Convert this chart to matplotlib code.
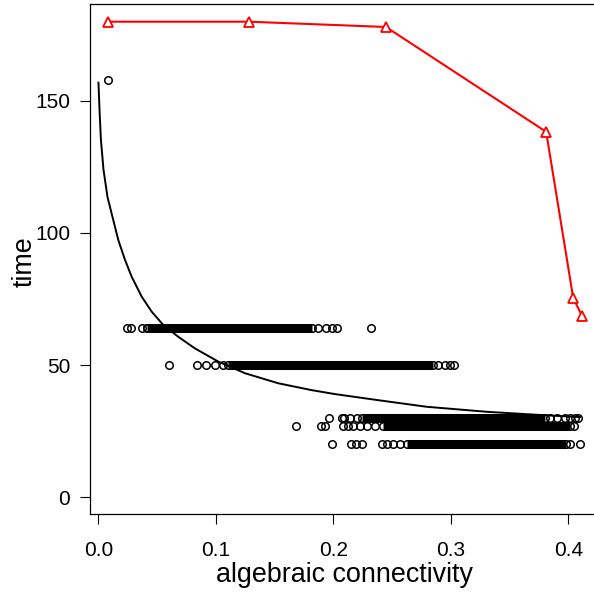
import matplotlib
matplotlib.use("Agg")
import matplotlib.pyplot as plt

plt.rcParams['font.family'] = ['Liberation Sans', 'DejaVu Sans']

# Red series (open triangles joined by a line)
tri_x = [0.0081, 0.128, 0.2447, 0.381, 0.404, 0.4115]
tri_y = [180, 180, 178, 138.3, 75.4, 68.6]

# Fitted black curve
curve_x = [0.0, 0.0009, 0.0021, 0.0043, 0.0077, 0.0126, 0.0169, 0.0226, 0.0283,
           0.0368, 0.0453, 0.0551, 0.0679, 0.0821, 0.1020, 0.1247, 0.1530, 0.1814,
           0.2013, 0.2396, 0.2793, 0.3304, 0.3757, 0.4098]
curve_y = [156.9, 146.6, 135.2, 123.9, 113.6, 104.9, 97.3, 89.8, 83.4,
           75.9, 70.2, 65.2, 60.7, 56.3, 51.3, 46.9, 43.1, 40.5,
           39.0, 36.6, 34.2, 32.3, 31.1, 30.3]

# Scatter bands: y level, isolated points, dense run (start, end)
band_levels = [64, 50, 30, 27, 20]
band_isolated = [
    [0.024, 0.0274, 0.0373, 0.041, 0.187, 0.194, 0.1985, 0.2027, 0.2317],
    [0.0603, 0.0841, 0.0915, 0.099, 0.1057, 0.289, 0.295, 0.299, 0.3026],
    [0.196, 0.207, 0.209, 0.214, 0.2197, 0.384, 0.3905, 0.397, 0.4013, 0.4055, 0.408],
    [0.168, 0.189, 0.1928, 0.2078, 0.2126, 0.2169, 0.2226, 0.2283, 0.2353, 0.4047],
    [0.1985, 0.2146, 0.2191, 0.224, 0.241, 0.2458, 0.2504, 0.2566, 0.4013, 0.4098],
]
band_dense = [(0.041, 0.182), (0.1105, 0.285), (0.224, 0.380), (0.2424, 0.401), (0.2623, 0.398)]

extra_x = [0.0081]
extra_y = [158]

x_ticks = [0.0, 0.1, 0.2, 0.3, 0.4]
x_labels = ["0.0", "0.1", "0.2", "0.3", "0.4"]
y_ticks = [0, 50, 100, 150]
y_labels = ["0", "50", "100", "150"]

W, H = 594, 593
fig = plt.figure(figsize=(W / 100, H / 100), dpi=100)
xlim = (-0.0072, 0.425)
ylim = (-6.4, 186.7)
left_px, bottom_px, top_px = 90, 514, 4
right_px = 98.5 + 0.425 * 1175
ax = fig.add_axes([left_px / W, (H - bottom_px) / H,
                   (right_px - left_px) / W, (bottom_px - top_px) / H])
ax.set_xlim(*xlim)
ax.set_ylim(*ylim)

ms = 5.4
mew = 1.1
band_lw = ms + mew
for lvl, iso, (s, e) in zip(band_levels, band_isolated, band_dense):
    ax.plot([s, e], [lvl, lvl], color='black', lw=band_lw, solid_capstyle='butt', zorder=2)
    ax.plot(iso + [s, e], [lvl] * (len(iso) + 2), linestyle='none', marker='o',
            ms=ms, mew=mew, mfc='none', mec='black', zorder=3)
ax.plot(extra_x, extra_y, linestyle='none', marker='o', ms=ms, mew=mew,
        mfc='none', mec='black', zorder=3)

ax.plot(curve_x, curve_y, color='black', lw=1.4, zorder=4,
        solid_joinstyle='round')

ax.plot(tri_x, tri_y, color='red', lw=1.5, marker='^', ms=7.5, mew=1.3,
        mfc='white', mec='red', zorder=5)

ax.set_xticks(x_ticks)
ax.set_xticklabels(x_labels)
ax.set_yticks(y_ticks)
ax.set_yticklabels(y_labels)
ax.tick_params(axis='both', direction='out', length=7.2, width=0.8, labelsize=15)
ax.tick_params(axis='x', pad=12)
ax.tick_params(axis='y', pad=7)
for sp in ax.spines.values():
    sp.set_linewidth(0.9)

fig.text(344 / W, 1 - 575 / H, "algebraic connectivity", fontsize=19.4,
         ha='center', va='center')
fig.text(25 / W, 1 - 262 / H, "time", fontsize=19.4, rotation=90,
         ha='center', va='center')

fig.savefig("out.png", dpi=100)
